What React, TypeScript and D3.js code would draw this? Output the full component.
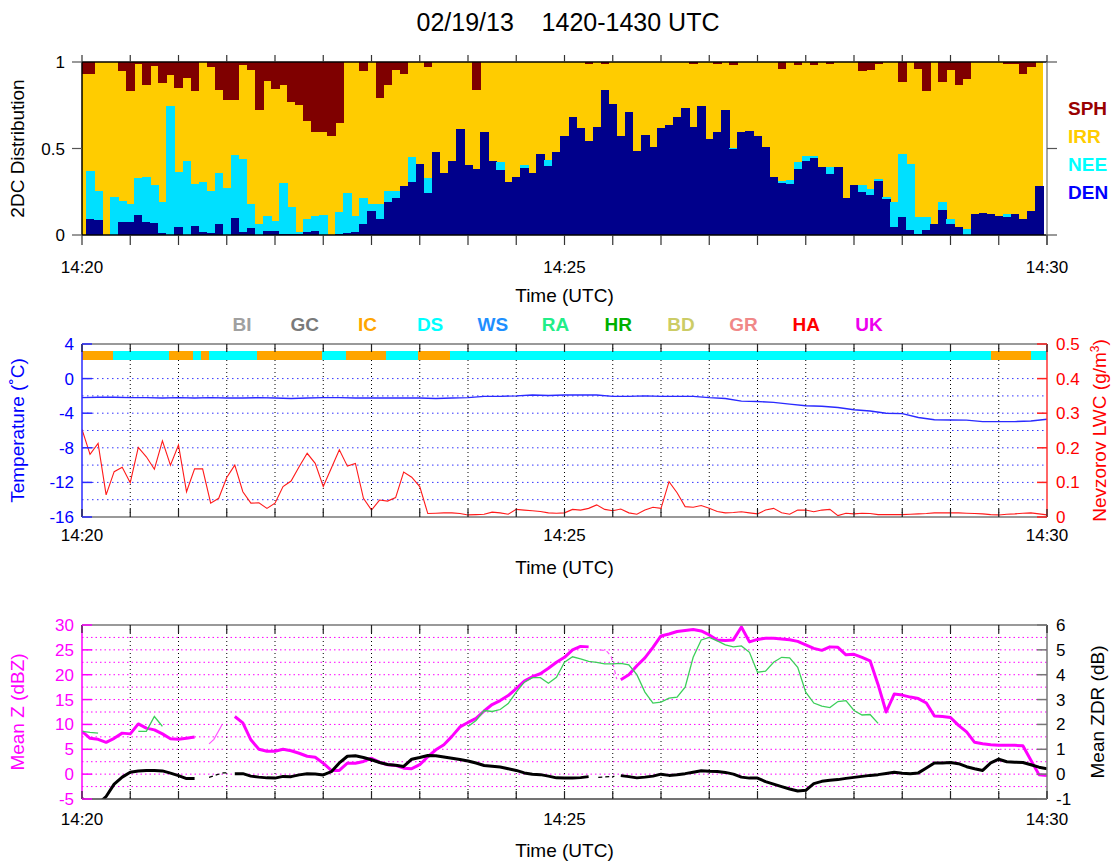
import React from 'react';
import * as d3 from 'd3';

const TITLE = '02/19/13    1420-1430 UTC';
const TIME_LABELS = ['14:20', '14:25', '14:30'];
const TIME_LABEL_SECS = [0, 300, 600];

// ---- Panel 1: 2DC habit fractions, 5 s bins (120 bins) ----
const DEN = [0,0.093,0.087,0,0,0.073,0.073,0.116,0.073,0.068,
0.014,0,0.048,0,0.054,0.02,0.014,0.064,0,0.097,
0.02,0.039,0,0.025,0.025,0.006,0.006,0.004,0.02,0.023,
0,0,0.004,0.01,0.02,0.062,0.141,0.093,0.189,0.212,
0.284,0.309,0.411,0.245,0.479,0.357,0.425,0.61,0.405,0.382,
0.598,0.429,0.375,0.305,0.338,0.386,0.357,0.471,0.40,0.479,
0.575,0.683,0.618,0.544,0.624,0.84,0.757,0.57,0.71,0.483,
0.579,0.508,0.618,0.633,0.683,0.734,0.624,0.743,0.556,0.593,
0.724,0.496,0.595,0.602,0.57,0.508,0.338,0.303,0.293,0.38,
0.429,0.444,0.392,0.351,0.392,0.212,0.29,0.251,0.232,0.315,
0.208,0.044,0.102,0.029,0.006,0.029,0.062,0.145,0.062,0.044,
0,0.122,0.125,0.12,0.11,0.102,0.12,0.093,0.141,0.284];

const NEE = [0,0.277,0.168,0,0.222,0.126,0.107,0.216,0.265,0.222,
0.176,0.743,0.315,0.429,0.243,0.289,0.241,0.293,0.274,0.366,
0.42,0.141,0.062,0.085,0.056,0.297,0.158,0.011,0.073,0.085,
0.116,0,0.131,0.235,0.09,0.15,0.037,0.087,0.066,0.043,
0,0.139,0,0.087,0,0,0,0,0,0,
0,0,0.046,0,0,0.019,0,0,0.034,0,
0,0,0,0,0,0,0,0,0,0,
0,0,0,0,0,0,0,0,0,0,
0,0.006,0,0,0,0,0,0.01,0.025,0.04,
0.03,0.014,0,0.04,0,0,0,0.039,0.035,0.01,
0.014,0.145,0.365,0.382,0.097,0.073,0,0.048,0.031,0,
0.035,0,0,0,0,0.02,0,0,0,0];

const SPH = [0.07,0.07,0,0,0,0.05,0.17,0.01,0.135,0.025,
0.12,0.075,0.15,0.09,0.17,0,0.03,0.16,0.22,0.22,
0.015,0.045,0.28,0.11,0.155,0.135,0.23,0.25,0.34,0.405,
0.405,0.43,0.35,0,0,0.05,0,0.21,0.135,0.045,
0.07,0,0,0.03,0,0,0,0,0,0.164,
0,0,0,0,0,0,0,0,0,0,
0,0,0,0.012,0,0.012,0,0,0,0,
0,0,0,0,0,0,0.01,0,0,0.012,
0,0.02,0,0,0,0,0,0.039,0,0.02,
0,0.02,0,0.01,0,0,0,0.054,0.048,0.01,
0,0,0.116,0,0.039,0.17,0,0.116,0.044,0.135,
0.1,0,0,0,0,0.012,0.012,0.07,0.031,0];

const HABITS = ['SPH', 'IRR', 'NEE', 'DEN'];
const HABIT_COLORS = ['#7f0000', '#ffcc00', '#00e0ff', '#00008b'];
const HABIT_TEXT_COLORS = ['#990000', '#ffcc00', '#00ffff', '#0000ff'];
const DIST_TICKS = [0, 0.5, 1];
const DIST_TICK_LABELS = ['0', '0.5', '1'];

// ---- Panel 2: temperature (10 s) and Nevzorov LWC (5 s) ----
const TEMP = [-2.2,-2.15,-2.15,-2.2,-2.2,-2.25,-2.2,-2.25,-2.2,-2.25,
-2.25,-2.2,-2.25,-2.3,-2.25,-2.2,-2.2,-2.25,-2.25,-2.25,
-2.25,-2.25,-2.3,-2.25,-2.2,-2.05,-2.05,-2.0,-1.9,-1.95,
-1.9,-1.9,-1.9,-2.05,-2.05,-2.0,-2.05,-2.05,-2.05,-2.2,
-2.3,-2.6,-2.65,-2.75,-2.95,-3.14,-3.2,-3.34,-3.6,-3.75,
-4.0,-4.05,-4.5,-4.75,-4.78,-4.8,-4.97,-4.97,-4.97,-4.9,
-4.7];

const LWC = [0.253,0.181,0.213,0.064,0.131,0.144,0.099,0.201,0.174,0.138,
0.22,0.15,0.208,0.073,0.139,0.139,0.04,0.054,0.114,0.15,
0.073,0.04,0.041,0.025,0.04,0.088,0.104,0.145,0.184,0.155,
0.088,0.141,0.194,0.147,0.155,0.054,0.02,0.049,0.046,0.056,
0.13,0.115,0.088,0.01,0.011,0.012,0.012,0.01,0.006,0.007,
0.008,0.014,0.012,0.008,0.022,0.02,0.018,0.016,0.012,0.011,
0.012,0.022,0.02,0.025,0.035,0.022,0.018,0.023,0.012,0.008,
0.02,0.028,0.025,0.102,0.07,0.03,0.028,0.033,0.025,0.016,
0.012,0.013,0.015,0.012,0.009,0.02,0.025,0.012,0.008,0.02,
0.02,0.015,0.02,0.022,0.004,0.011,0.009,0.011,0.01,0.007,
0.007,0.007,0.007,0.008,0.009,0.01,0.012,0.012,0.012,0.012,
0.011,0.01,0.009,0.007,0.006,0.008,0.009,0.011,0.012,0.009,
0.006];

const TEMP_TICKS = [4, 0, -4, -8, -12, -16];
const TEMP_GRID = [0, -2, -4, -6, -8, -10, -12, -14];
const LWC_TICKS = [0, 0.1, 0.2, 0.3, 0.4, 0.5];
const LWC_TICK_LABELS = ['0', '0.1', '0.2', '0.3', '0.4', '0.5'];

const CATEGORIES = ['BI', 'GC', 'IC', 'DS', 'WS', 'RA', 'HR', 'BD', 'GR', 'HA', 'UK'];
const CAT_COLORS = ['#a0a0a0', '#7a7a7a', '#ffa500', '#00ffff', '#1e8fff', '#22ee88', '#00b000', '#cccc66', '#f08888', '#ff0000', '#ee00ee'];
const CAT_START = [0, 19, 54, 69, 74, 79, 109, 149, 164, 189, 209, 229, 565, 590];
const CAT_END = [19, 54, 69, 74, 79, 109, 149, 164, 189, 209, 229, 565, 590, 600];
const CAT_CODE = ['IC','DS','IC','DS','IC','DS','IC','DS','IC','DS','IC','DS','IC','DS'];

// ---- Panel 3: mean Z (dBZ) and mean ZDR (dB), 5 s ----
const MEAN_Z = [8.6,7.2,7.0,6.4,7.2,8.25,8.1,10.1,9.25,8.9,
8.1,7.1,7.0,7.2,7.45,null,null,null,null,11.6,
10.3,6.9,5.0,4.6,4.6,5.0,4.7,4.2,3.6,3.4,
2.2,0.75,0.75,2.2,2.2,2.55,3.2,2.4,1.9,1.75,
1.2,1.1,1.9,3.5,4.9,5.9,7.6,9.5,10.4,11.2,
12.7,14.0,14.8,15.8,17.2,18.7,19.6,20.2,21.3,22.5,
23.5,25.0,25.7,25.6,null,null,null,19.0,20.0,21.8,
23.4,25.5,27.8,28.2,28.7,28.9,29.1,28.8,28.0,27.0,
26.9,27.0,29.6,26.6,27.1,27.35,27.35,27.2,27.05,26.7,
26.0,25.3,24.9,25.6,25.5,24.0,24.1,23.5,22.8,18.0,
12.5,16.1,15.9,15.5,15.2,14.3,11.7,11.6,11.4,9.8,
8.5,6.4,6.1,5.9,5.8,5.8,5.8,5.7,2.8,-0.1,
-0.3];

const MEAN_Z2 = [8.6,8.4,8.25,null,null,null,null,8.6,8.6,11.6,
9.6,null,null,null,null,null,null,null,null,null,
null,null,null,null,null,null,null,null,null,null,
null,null,null,null,null,null,null,null,null,null,
null,null,null,null,null,null,null,null,9.6,10.8,
12.8,12.6,13.0,14.2,16.5,18.5,19.4,19.4,18.3,19.5,
22.5,23.6,23.2,22.7,22.5,22.2,22.2,22.3,22.0,20.0,
16.5,14.3,14.5,15.3,15.5,17.5,23.5,27.0,27.5,26.8,
26.0,25.6,25.8,24.5,20.5,20.7,22.5,23.5,23.4,21.5,
16.5,14.3,13.7,13.4,14.6,14.8,12.8,11.9,12.0,10.2,
null,null,null,null,null,null,null,null,null,null,
null,null,null,null,null,null,null,null,null,null,
null];

const MEAN_ZDR = [-0.98,-1.2,-1.2,-0.9,-0.4,-0.12,0.08,0.13,0.15,0.15,
0.13,0.04,-0.06,-0.18,-0.18,null,null,null,null,0.02,
0.02,-0.08,-0.12,-0.15,-0.16,-0.09,-0.1,-0.03,0.02,0.01,
-0.03,0.1,0.45,0.72,0.74,0.67,0.58,0.47,0.39,0.36,
0.31,0.6,0.67,0.75,0.74,0.69,0.64,0.59,0.53,0.45,
0.35,0.32,0.29,0.22,0.15,0.05,0.0,-0.02,-0.08,-0.15,
-0.16,-0.16,-0.14,-0.1,null,null,null,-0.06,-0.1,-0.15,
-0.12,-0.08,0.0,-0.05,-0.02,0.02,0.08,0.14,0.12,0.11,
0.07,0.0,-0.12,-0.16,-0.16,-0.3,-0.4,-0.5,-0.6,-0.68,
-0.65,-0.38,-0.29,-0.25,-0.22,-0.17,-0.13,-0.09,-0.05,-0.02,
0.03,0.08,0.04,0.02,0.05,0.25,0.45,0.45,0.47,0.42,
0.3,0.22,0.15,0.45,0.6,0.5,0.48,0.47,0.38,0.28,
0.22];

// thin connecting pieces across data gaps
const Z_GAP1_T = [79, 82, 87];
const Z_GAP1 = [6.1, 7.0, 9.9];
const Z_GAP2_T = [322, 326, 329, 332.5];
const Z_GAP2 = [25.0, 24.8, 23.7, 19.1];
const ZDR_GAP1_T = [79, 84, 88, 91];
const ZDR_GAP1 = [-0.13, -0.02, 0.05, 0.05];
const ZDR_GAP2_T = [321, 331];
const ZDR_GAP2 = [-0.13, -0.09];

const Z_TICKS = [30, 25, 20, 15, 10, 5, 0, -5];
const Z_GRID = [27.5, 25, 22.5, 20, 17.5, 15, 12.5, 10, 7.5, 5, 2.5, 0, -2.5];
const ZDR_TICKS = [6, 5, 4, 3, 2, 1, 0, -1];

const FONT = "'Liberation Sans', Arial, Helvetica, sans-serif";

export default function App() {
  const W = 1119, H = 861;
  const X0 = 82, X1 = 1047;
  const x = d3.scaleLinear().domain([0, 600]).range([X0, X1]);
  const tickSecs = d3.range(0, 601, 30);
  const innerSecs = tickSecs.filter((t) => t > 0 && t < 600);

  // panel geometry
  const P1T = 62, P1B = 235;
  const P2T = 344, P2B = 517;
  const P3T = 625, P3B = 799;

  const yDist = d3.scaleLinear().domain([0, 1]).range([P1B, P1T]);
  const yTemp = d3.scaleLinear().domain([-16, 4]).range([P2B, P2T]);
  const yLwc = d3.scaleLinear().domain([0, 0.5]).range([P2B, P2T]);
  const yZ = d3.scaleLinear().domain([-5, 30]).range([P3B, P3T]);
  const yZdr = d3.scaleLinear().domain([-1, 6]).range([P3B, P3T]);

  const lineIdx = (step: number, y: d3.ScaleLinear<number, number>) =>
    d3.line<number | null>()
      .defined((d) => d != null)
      .x((_, i) => x(i * step))
      .y((d) => y(d as number));

  const linePairs = (ts: number[], y: d3.ScaleLinear<number, number>) =>
    d3.line<number>().x((_, i) => x(ts[i])).y((d) => y(d));

  const tempPath = lineIdx(10, yTemp)(TEMP) || '';
  const lwcPath = lineIdx(5, yLwc)(LWC) || '';
  const zPath = lineIdx(5, yZ)(MEAN_Z) || '';
  const z2Path = lineIdx(5, yZ)(MEAN_Z2) || '';
  const zdrPath = lineIdx(5, yZdr)(MEAN_ZDR) || '';

  const catColor = (c: string) => CAT_COLORS[CATEGORIES.indexOf(c)];

  const tickLabelSize = 17;
  const titleSize = 19;

  const timeAxisLabels = (baseY: number, titleY: number) => (
    <g>
      {TIME_LABELS.map((lab, i) => (
        <text key={lab} x={x(TIME_LABEL_SECS[i])} y={baseY} textAnchor="middle" fontSize={tickLabelSize} fill="#000">{lab}</text>
      ))}
      <text x={(X0 + X1) / 2} y={titleY} textAnchor="middle" fontSize={titleSize} fill="#000">Time (UTC)</text>
    </g>
  );

  return (
    <div style={{ position: 'absolute', left: 0, top: 0 }}>
      <svg width={W} height={H} style={{ display: 'block', background: '#fff' }} fontFamily={FONT}>
        <defs>
          <clipPath id="clip2"><rect x={X0} y={P2T} width={X1 - X0} height={P2B - P2T} /></clipPath>
          <clipPath id="clip3"><rect x={X0} y={P3T} width={X1 - X0} height={P3B - P3T} /></clipPath>
        </defs>
        <rect x={0} y={0} width={W} height={H} fill="#fff" />

        {/* Title */}
        <text x={568} y={31} textAnchor="middle" fontSize={25} fill="#000" style={{ whiteSpace: 'pre' }} xmlSpace="preserve">{TITLE}</text>

        {/* ================= Panel 1 ================= */}
        <g shapeRendering="crispEdges">
          <rect x={X0} y={P1T} width={x(DEN.length * 5 - 2.5) - X0} height={P1B - P1T} fill={HABIT_COLORS[1]} />
          {DEN.map((d, i) => {
            const t0 = Math.max(0, i * 5 - 2.5);
            const t1 = Math.min(600, i * 5 + 2.5);
            const bx = x(t0);
            const bw = x(t1) - x(t0) + 0.6;
            const n = NEE[i];
            const s = SPH[i];
            return (
              <g key={i}>
                {d > 0 && <rect x={bx} y={yDist(d)} width={bw} height={yDist(0) - yDist(d)} fill={HABIT_COLORS[3]} />}
                {n > 0 && <rect x={bx} y={yDist(d + n)} width={bw} height={yDist(d) - yDist(d + n)} fill={HABIT_COLORS[2]} />}
                {s > 0 && <rect x={bx} y={yDist(1)} width={bw} height={yDist(1 - s) - yDist(1)} fill={HABIT_COLORS[0]} />}
              </g>
            );
          })}
        </g>
        <g>
          <line x1={X0} x2={X1} y1={P1T} y2={P1T} stroke="#000" strokeWidth={1.5} />
          <line x1={X0} x2={X1} y1={P1B} y2={P1B} stroke="#000" strokeWidth={1.5} />
          <line x1={X0} x2={X0} y1={P1T} y2={P1B} stroke="#000" strokeWidth={1.5} />
          <line x1={X1} x2={X1} y1={P1T} y2={P1B + 10} stroke="#888" strokeWidth={1.5} />
          {tickSecs.map((t) => (
            <g key={t}>
              <line x1={x(t)} x2={x(t)} y1={P1T - 7} y2={P1T} stroke="#333" strokeWidth={1.2} />
              <line x1={x(t)} x2={x(t)} y1={P1B} y2={P1B + 10} stroke="#333" strokeWidth={1.2} />
            </g>
          ))}
          {DIST_TICKS.map((v, i) => (
            <g key={v}>
              <line x1={X0 - 10} x2={X0} y1={yDist(v)} y2={yDist(v)} stroke="#555" strokeWidth={1.2} />
              <line x1={X1} x2={X1 + 10} y1={yDist(v)} y2={yDist(v)} stroke="#555" strokeWidth={1.2} />
              <text x={65} y={yDist(v) + 6} textAnchor="end" fontSize={tickLabelSize} fill="#000">{DIST_TICK_LABELS[i]}</text>
            </g>
          ))}
          <text transform={`translate(24,${(P1T + P1B) / 2}) rotate(-90)`} textAnchor="middle" fontSize={titleSize} fill="#000">2DC Distribution</text>
          {HABITS.map((h, i) => (
            <text key={h} x={1068} y={115 + i * 28} fontSize={19} fontWeight="bold" fill={HABIT_TEXT_COLORS[i]}>{h}</text>
          ))}
          {timeAxisLabels(273, 302)}
        </g>

        {/* ================= Panel 2 ================= */}
        <g>
          {CATEGORIES.map((c, i) => (
            <text key={c} x={242 + i * 62.7} y={331} textAnchor="middle" fontSize={19} fontWeight="bold" fill={CAT_COLORS[i]}>{c}</text>
          ))}
          {TEMP_GRID.map((v) => (
            <line key={v} x1={X0} x2={X1} y1={yTemp(v)} y2={yTemp(v)} stroke="#3333ff" strokeWidth={1} strokeDasharray="1.5,3.5" />
          ))}
          {innerSecs.map((t) => (
            <line key={t} x1={x(t)} x2={x(t)} y1={P2T} y2={P2B} stroke="#000" strokeWidth={1} strokeDasharray="1,3" />
          ))}
          {CAT_CODE.map((c, i) => (
            <rect key={i} x={x(CAT_START[i])} y={351} width={x(CAT_END[i]) - x(CAT_START[i])} height={9} fill={catColor(c)} shapeRendering="crispEdges" />
          ))}
          <g clipPath="url(#clip2)">
            <path d={tempPath} fill="none" stroke="#2a2aff" strokeWidth={1.4} />
            <path d={lwcPath} fill="none" stroke="#ff1a1a" strokeWidth={1.1} />
          </g>
          <line x1={X0} x2={X1} y1={P2T} y2={P2T} stroke="#777" strokeWidth={1.5} />
          <line x1={X0} x2={X1} y1={P2B} y2={P2B} stroke="#777" strokeWidth={1.5} />
          <line x1={X0} x2={X0} y1={P2T} y2={P2B} stroke="#2a2aff" strokeWidth={1.5} />
          <line x1={X1} x2={X1} y1={P2T} y2={P2B} stroke="#ff3333" strokeWidth={1.5} />
          {tickSecs.map((t) => (
            <g key={t}>
              <line x1={x(t)} x2={x(t)} y1={P2T} y2={P2T + 8} stroke="#222" strokeWidth={1.2} />
              <line x1={x(t)} x2={x(t)} y1={P2B - 8} y2={P2B} stroke="#222" strokeWidth={1.2} />
            </g>
          ))}
          {TEMP_TICKS.map((v) => (
            <g key={v}>
              <line x1={X0} x2={X0 + 10} y1={yTemp(v)} y2={yTemp(v)} stroke="#2a2aff" strokeWidth={1.5} />
              <text x={74} y={yTemp(v) + 6} textAnchor="end" fontSize={tickLabelSize} fill="#0000ff">{v}</text>
            </g>
          ))}
          {LWC_TICKS.map((v, i) => (
            <g key={v}>
              <line x1={X1 - 10} x2={X1} y1={yLwc(v)} y2={yLwc(v)} stroke="#ff2222" strokeWidth={1.5} />
              <text x={1056} y={yLwc(v) + 6} textAnchor="start" fontSize={tickLabelSize} fill="#ff0000">{LWC_TICK_LABELS[i]}</text>
            </g>
          ))}
          <text transform={`translate(24,${(P2T + P2B) / 2}) rotate(-90)`} textAnchor="middle" fontSize={titleSize} fill="#0000ff">Temperature (˚C)</text>
          <text transform={`translate(1106,${(P2T + P2B) / 2}) rotate(-90)`} textAnchor="middle" fontSize={titleSize} fill="#ff0000">
            Nevzorov LWC (g/m<tspan dy={-7} fontSize={12}>3</tspan><tspan dy={7}>)</tspan>
          </text>
          {timeAxisLabels(541, 574)}
        </g>

        {/* ================= Panel 3 ================= */}
        <g>
          {Z_GRID.map((v) => (
            <line key={v} x1={X0} x2={X1} y1={yZ(v)} y2={yZ(v)} stroke="#ff00ff" strokeWidth={1} strokeDasharray="1.5,3" />
          ))}
          {innerSecs.map((t) => (
            <line key={t} x1={x(t)} x2={x(t)} y1={P3T} y2={P3B} stroke="#000" strokeWidth={1} strokeDasharray="1,3" />
          ))}
          <g clipPath="url(#clip3)">
            <path d={zPath} fill="none" stroke="#ff00ff" strokeWidth={3} strokeLinejoin="round" />
            <path d={linePairs(Z_GAP1_T, yZ)(Z_GAP1) || ''} fill="none" stroke="#ff55ff" strokeWidth={1.2} />
            <path d={linePairs(Z_GAP2_T, yZ)(Z_GAP2) || ''} fill="none" stroke="#ff55ff" strokeWidth={1.2} strokeDasharray="4,3" />
            <path d={z2Path} fill="none" stroke="#3ccf5a" strokeWidth={1.3} />
            <path d={zdrPath} fill="none" stroke="#000" strokeWidth={3} strokeLinejoin="round" />
            <path d={linePairs(ZDR_GAP1_T, yZdr)(ZDR_GAP1) || ''} fill="none" stroke="#000" strokeWidth={1.2} strokeDasharray="4,3" />
            <path d={linePairs(ZDR_GAP2_T, yZdr)(ZDR_GAP2) || ''} fill="none" stroke="#000" strokeWidth={1.2} strokeDasharray="4,3" />
          </g>
          <line x1={X0} x2={X1} y1={P3T} y2={P3T} stroke="#777" strokeWidth={1.5} />
          <line x1={X0} x2={X1} y1={P3B} y2={P3B} stroke="#444" strokeWidth={1.5} />
          <line x1={X0} x2={X0} y1={P3T} y2={P3B} stroke="#ff00ff" strokeWidth={1.5} />
          <line x1={X1} x2={X1} y1={P3T} y2={P3B} stroke="#777" strokeWidth={1.5} />
          {tickSecs.map((t) => (
            <g key={t}>
              <line x1={x(t)} x2={x(t)} y1={P3T} y2={P3T + 8} stroke="#222" strokeWidth={1.2} />
              <line x1={x(t)} x2={x(t)} y1={P3B - 8} y2={P3B} stroke="#222" strokeWidth={1.2} />
            </g>
          ))}
          {Z_TICKS.map((v) => (
            <g key={v}>
              <line x1={X0} x2={X0 + 10} y1={yZ(v)} y2={yZ(v)} stroke="#ff00ff" strokeWidth={1.5} />
              <text x={74} y={yZ(v) + 6} textAnchor="end" fontSize={tickLabelSize} fill="#ff00ff">{v}</text>
            </g>
          ))}
          {ZDR_TICKS.map((v) => (
            <g key={v}>
              <line x1={X1 - 10} x2={X1} y1={yZdr(v)} y2={yZdr(v)} stroke="#777" strokeWidth={1.5} />
              <text x={1056} y={yZdr(v) + 6} textAnchor="start" fontSize={tickLabelSize} fill="#000">{v}</text>
            </g>
          ))}
          <text transform={`translate(24,${(P3T + P3B) / 2}) rotate(-90)`} textAnchor="middle" fontSize={titleSize} fill="#ff00ff">Mean Z (dBZ)</text>
          <text transform={`translate(1104,${(P3T + P3B) / 2}) rotate(-90)`} textAnchor="middle" fontSize={titleSize} fill="#000">Mean ZDR (dB)</text>
          {timeAxisLabels(825, 857)}
        </g>
      </svg>
    </div>
  );
}
